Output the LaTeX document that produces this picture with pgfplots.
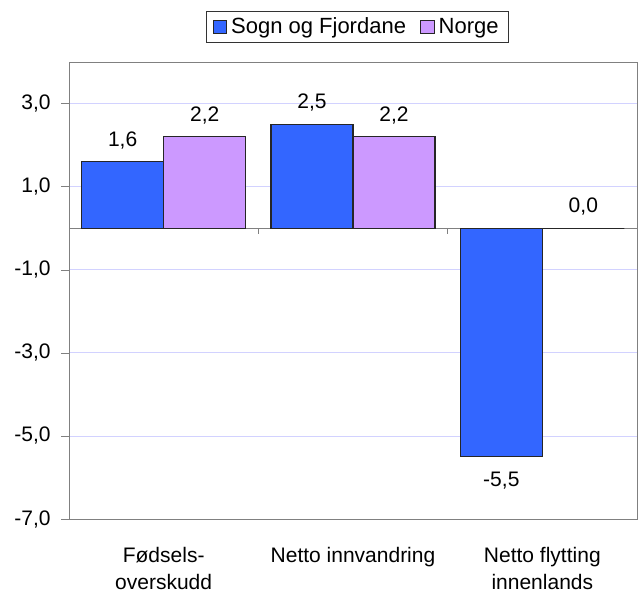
\documentclass[border=0pt]{standalone}
\usepackage{fontspec}
\setmainfont{Liberation Sans}
\usepackage{pgfplots}
\pgfplotsset{compat=1.18}

\definecolor{sogn}{RGB}{51,102,255}
\definecolor{norge}{RGB}{204,153,255}
\definecolor{gridc}{RGB}{210,210,255}
\definecolor{frame}{RGB}{128,128,128}

\begin{document}
\begin{tikzpicture}[font=\fontsize{10.5}{13.5}\selectfont]
\begin{axis}[
    name=ax,
    scale only axis,
    width=284pt, height=228.5pt,
    xmin=-0.5, xmax=2.5,
    ymin=-7, ymax=4,
    ybar=0pt, bar width=41pt,
    axis line style={draw=frame},
    xtick={0,1,2},
    xticklabels={{Fødsels-\\overskudd}, {Netto innvandring}, {Netto flytting\\innenlands}},
    xticklabel style={align=center, yshift=-6.5pt},
    x tick style={draw=none},
    ytick={-7,-5,-3,-1,1,3},
    ytick pos=left,
    tick align=outside,
    major tick length=4pt,
    y tick style={draw=frame},
    ymajorgrids,
    grid style={draw=gridc},
    yticklabel style={inner sep=0pt, xshift=-5pt},
    /pgf/number format/fixed,
    /pgf/number format/fixed zerofill,
    /pgf/number format/precision=1,
    /pgf/number format/use comma,
    /pgf/number format/assume math mode=true,
    nodes near coords,
    nodes near coords style={inner ysep=7.5pt, text depth=0pt},
    legend columns=2,
    legend style={
        at={(0.508,1)}, anchor=south, yshift=9.5pt,
        draw=black!80, inner xsep=3pt, inner ysep=1pt,
        font=\fontsize{11}{13}\selectfont,
        /tikz/every even column/.append style={column sep=5pt},
    },
    legend image code/.code={
        \draw[#1, line width=0.5pt] (0pt,-3.4pt) rectangle (6.8pt,3.4pt);
    },
]
% zero line with category ticks
\draw[frame] (axis cs:-0.5,0) -- (axis cs:2.5,0);
\draw[frame] (axis cs:0.5,0) -- ([yshift=-3pt]axis cs:0.5,0);
\draw[frame] (axis cs:1.5,0) -- ([yshift=-3pt]axis cs:1.5,0);
\draw[frame] (axis cs:2.5,0) -- ([yshift=-3pt]axis cs:2.5,0);

\addplot[fill=sogn, draw=black!85, line width=0.6pt] coordinates {(0,1.6) (1,2.5) (2,-5.5)};
\addlegendentry{Sogn og Fjordane}
\addplot[fill=norge, draw=black!85, line width=0.6pt] coordinates {(0,2.2) (1,2.2) (2,0.0)};
\addlegendentry{Norge}
\end{axis}
\path ([shift={(-34.5pt,-35pt)}]ax.south west) rectangle ([shift={(3.5pt,31pt)}]ax.north east);
\end{tikzpicture}
\end{document}
